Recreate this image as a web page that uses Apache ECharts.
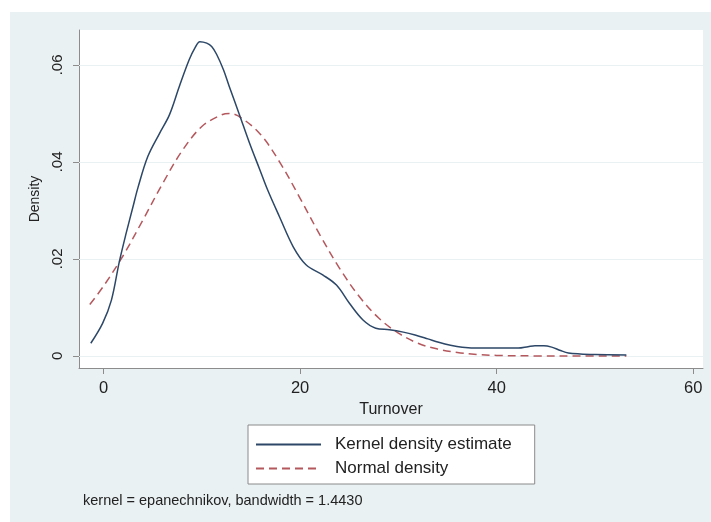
<!DOCTYPE html>
<html>
<head>
<meta charset="utf-8">
<script src="https://cdn.jsdelivr.net/npm/echarts@6/dist/echarts.min.js"></script>
<style>
html,body{margin:0;padding:0;background:#ffffff;}
#chart{width:711px;height:522px;}
</style>
</head>
<body>
<div id="chart"></div>
<script>
// Data
var kernelX = [-1.3, -0.1, 0.8, 1.6, 2.3, 3.0, 3.5, 4.5, 5.7, 6.7, 7.7, 8.7, 9.3, 9.8, 10.5, 11.0, 11.5, 12.2, 12.8, 13.8, 14.85, 15.9, 16.7, 17.9, 19.3, 20.6, 22.3, 23.7, 25.0, 26.4, 27.7, 29.1, 30.5, 31.7, 33.0, 34.1, 35.3, 36.5, 38.2, 39.9, 42.2, 43.2, 43.9, 44.8, 45.6, 46.5, 47.3, 48.5, 50.0, 53.2];
var kernelY = [0.0026, 0.0067, 0.0115, 0.0194, 0.0253, 0.0308, 0.0347, 0.0411, 0.0459, 0.0497, 0.0555, 0.0610, 0.0635, 0.0648, 0.0645, 0.0638, 0.0622, 0.0590, 0.0555, 0.0499, 0.0439, 0.0384, 0.0342, 0.0287, 0.0225, 0.0188, 0.0167, 0.0146, 0.0109, 0.0074, 0.0057, 0.0054, 0.0049, 0.0043, 0.0035, 0.0028, 0.0022, 0.0018, 0.0016, 0.0016, 0.0016, 0.0019, 0.0021, 0.0021, 0.0018, 0.0011, 0.0006, 0.0004, 0.0003, 0.0002];
var normalX = [-1.4, 0, 2, 4, 6, 8, 10, 12, 12.8, 14, 16, 18, 20, 22, 24, 26, 28, 30, 32, 34, 36, 38, 40, 44, 48, 53.2];
var normalY = [0.0106, 0.0144, 0.0207, 0.0280, 0.0355, 0.0423, 0.0473, 0.0497, 0.0500, 0.0491, 0.0456, 0.0397, 0.0325, 0.0250, 0.0181, 0.0123, 0.0078, 0.0047, 0.0026, 0.0014, 0.0007, 0.0003, 0.0001, 0.0000, 0.0000, 0.0000];
var xTicks = [0, 20, 40, 60];
var yTicks = [0, 0.02, 0.04, 0.06];
var yTickLabels = ['0', '.02', '.04', '.06'];
var seriesNames = ['Kernel density estimate', 'Normal density'];
var xTitle = 'Turnover';
var yTitle = 'Density';
var noteText = 'kernel = epanechnikov, bandwidth = 1.4430';

function zip(a, b) { return a.map(function (v, i) { return [v, b[i]]; }); }

var font = '"Liberation Sans", Arial, sans-serif';
var chart = echarts.init(document.getElementById('chart'), null, {renderer: 'canvas'});
chart.setOption({
  backgroundColor: '#ffffff',
  animation: false,
  graphic: [
    {type: 'rect', z: -10, shape: {x: 10, y: 12, width: 701, height: 510}, style: {fill: '#eaf1f3'}},
    {type: 'text', left: 83, top: 493, style: {text: noteText, font: '14.5px ' + font, fill: '#222'}}
  ],
  grid: {left: 79, right: 8, top: 30, bottom: 154, show: true, backgroundColor: '#ffffff', borderWidth: 0},
  legend: {
    orient: 'vertical', left: 248, top: 425,
    itemWidth: 65, itemHeight: 14, itemGap: 7,
    padding: [11, 23, 7, 7],
    borderColor: '#8a8a8a', borderWidth: 1, backgroundColor: '#ffffff',
    itemStyle: {opacity: 0},
    textStyle: {fontFamily: font, fontSize: 17, color: '#222', padding: [0, 0, 0, 9]},
    data: seriesNames
  },
  xAxis: {
    type: 'value', min: -2.5, max: 61,
    name: xTitle, nameLocation: 'middle', nameGap: 31,
    nameTextStyle: {fontFamily: font, fontSize: 16, color: '#222'},
    axisLine: {show: true, onZero: false, lineStyle: {color: '#8c8c8c', width: 1}},
    axisTick: {show: true, length: 6, customValues: xTicks, lineStyle: {color: '#8c8c8c'}},
    axisLabel: {customValues: xTicks, margin: 12, fontFamily: font, fontSize: 16.5, color: '#222'},
    splitLine: {show: false}
  },
  yAxis: {
    type: 'value', min: -0.0025, max: 0.0672,
    name: yTitle, nameLocation: 'middle', nameGap: 34, nameRotate: 90,
    nameTextStyle: {fontFamily: font, fontSize: 14, color: '#222'},
    axisLine: {show: true, onZero: false, lineStyle: {color: '#8c8c8c', width: 1}},
    axisTick: {show: true, length: 6, customValues: yTicks, lineStyle: {color: '#8c8c8c'}},
    axisLabel: {
      customValues: yTicks, rotate: 90, margin: 14, fontFamily: font, fontSize: 15, color: '#222',
      formatter: function (v) { var i = yTicks.indexOf(v); return i >= 0 ? yTickLabels[i] : ''; }
    },
    splitLine: {show: false}
  },
  series: [
    {
      name: seriesNames[0], type: 'line', data: zip(kernelX, kernelY),
      smooth: 0.35, symbol: 'none', z: 3,
      lineStyle: {color: '#2c4767', width: 1.5},
      itemStyle: {color: '#2c4767'},
      markLine: {
        silent: true, symbol: 'none', label: {show: false}, z: 1,
        lineStyle: {color: '#eaf1f3', width: 1, type: 'solid'},
        data: yTicks.map(function (v) { return {yAxis: v}; })
      }
    },
    {
      name: seriesNames[1], type: 'line', data: zip(normalX, normalY),
      smooth: 0.35, symbol: 'none', z: 2,
      lineStyle: {color: '#b4585d', width: 1.5, type: [8, 5]},
      itemStyle: {color: '#b4585d'}
    }
  ]
});
</script>
</body>
</html>
